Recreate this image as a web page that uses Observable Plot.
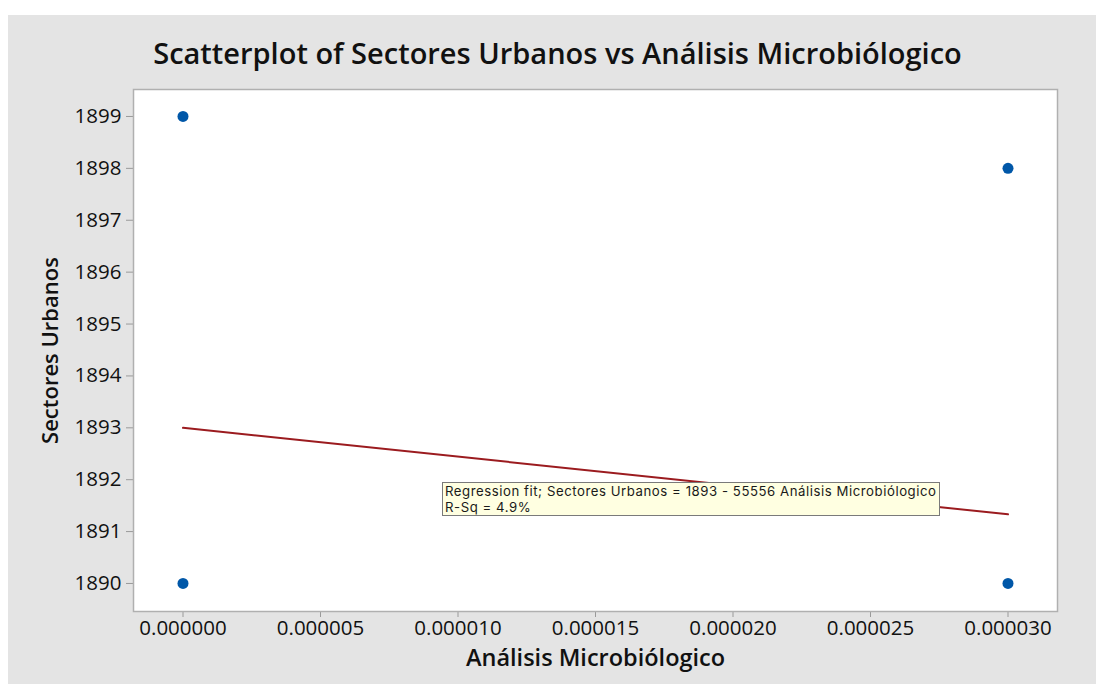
<!DOCTYPE html>
<html>
<head>
<meta charset="utf-8">
<script src="https://cdn.jsdelivr.net/npm/d3@7"></script>
<script src="https://cdn.jsdelivr.net/npm/@observablehq/plot@0.6"></script>
<style>
  html, body { margin: 0; padding: 0; background: #ffffff; }
  #page { position: relative; width: 1096px; height: 684px; overflow: hidden; }
  #panel { position: absolute; left: 8px; top: 15px; right: 0; bottom: 0; background: #e4e4e4; }
  #chart { position: absolute; left: 0; top: 0; }
  #chart svg { background: transparent; }
  #chart g[aria-label="x-axis tick"] path,
  #chart g[aria-label="y-axis tick"] path { stroke: #9a9a9a; }
  #fit {
    position: absolute; left: 442px; top: 482px; width: 498px; height: 34px;
    background: #ffffe1; border: 1px solid #7a7a7a; box-sizing: border-box;
    font-family: Inter, "Open Sans", sans-serif; font-size: 13.2px; line-height: 16px;
    letter-spacing: 0.55px; color: #1a1a1a; padding: 0 0 0 2px; white-space: nowrap;
  }
</style>
</head>
<body>
<div id="page">
  <div id="panel"></div>
  <div id="chart"></div>
  <div id="fit"></div>
</div>
<script>
// Observations: Análisis Microbiológico (x) vs Sectores Urbanos (y)
const analisis = [0, 0, 0.00003, 0.00003];
const sectores = [1899, 1890, 1898, 1890];

// Fitted regression: Sectores Urbanos = intercept + slope * Análisis
const intercept = 1893;
const slope = -55556;
const rSq = 4.9;

const xTicks = [0, 0.000005, 0.00001, 0.000015, 0.00002, 0.000025, 0.00003];
const yTicks = [1890, 1891, 1892, 1893, 1894, 1895, 1896, 1897, 1898, 1899];

const title = "Scatterplot of Sectores Urbanos vs Análisis Microbiólogico";
const xLabel = "Análisis Microbiólogico";
const yLabel = "Sectores Urbanos";

const points = analisis.map((x, i) => ({x, y: sectores[i]}));
const xExtent = d3.extent(analisis);
const fitLine = xExtent.map(x => ({x, y: intercept + slope * x}));

const font = "'Open Sans', sans-serif";
const xFormat = d3.format(".6f");
const yFormat = d => String(d);

const chart = Plot.plot({
  width: 1096,
  height: 684,
  marginLeft: 133,
  marginRight: 39,
  marginTop: 89,
  marginBottom: 73,
  style: {fontFamily: font, color: "#111", background: "transparent"},
  x: {domain: [-0.0000018, 0.0000318], label: null},
  y: {domain: [1889.46, 1899.52], label: null},
  marks: [
    Plot.frame({fill: "white"}),
    Plot.axisX({ticks: xTicks, tickFormat: xFormat, tickSize: 6, tickPadding: 3, fontSize: 20.5, label: null}),
    Plot.axisY({ticks: yTicks, tickFormat: yFormat, tickSize: 7, tickPadding: 5, fontSize: 20.5, label: null}),
    Plot.frame({stroke: "#b0b0b0", strokeWidth: 1.5}),
    Plot.line(fitLine, {x: "x", y: "y", stroke: "#9b1b1f", strokeWidth: 2}),
    Plot.dot(points, {x: "x", y: "y", r: 5.5, fill: "#0057a8", stroke: "none"}),
    Plot.text([title], {frameAnchor: "top", lineAnchor: "middle", dx: -38, dy: -35, fontSize: 29, fontWeight: 600, text: d => d, fill: "#111"}),
    Plot.text([xLabel], {frameAnchor: "bottom", lineAnchor: "middle", dy: 47, fontSize: 23.5, fontWeight: 600, text: d => d, fill: "#111"}),
    Plot.text([yLabel], {frameAnchor: "left", lineAnchor: "middle", dx: -83, rotate: -90, textAnchor: "middle", fontSize: 22, fontWeight: 600, text: d => d, fill: "#111"})
  ]
});

document.getElementById("chart").appendChild(chart);

document.getElementById("fit").innerHTML =
  `Regression fit; ${yLabel} = ${intercept} - ${Math.abs(slope)} ${xLabel}<br>R-Sq = ${rSq}%`;
</script>
</body>
</html>
